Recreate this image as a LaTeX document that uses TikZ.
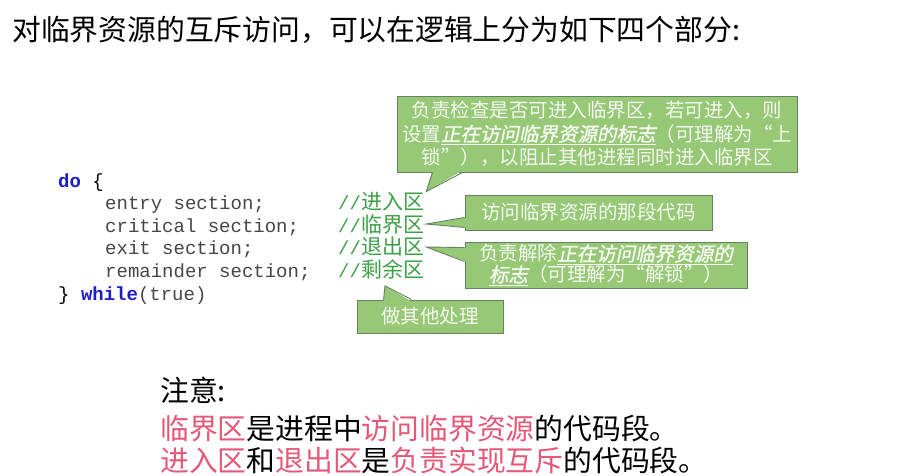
\documentclass[tikz,border=0pt]{standalone}
\usepackage{fontspec}
\setmainfont{Noto Sans CJK SC}
\setmonofont{Liberation Mono}
\newfontfamily\cjk{Noto Sans CJK SC}
\newfontfamily\cjkem{Noto Sans CJK SC}[FakeSlant=0.2,FakeBold=1.5]
\usepackage{xcolor}
\usetikzlibrary{positioning}
\definecolor{kwblue}{RGB}{30,30,200}
\definecolor{codegrey}{RGB}{70,70,70}
\definecolor{cmtgreen}{RGB}{60,160,70}
\definecolor{notefill}{RGB}{150,200,118}
\definecolor{noteedge}{RGB}{100,130,95}
\definecolor{notetext}{RGB}{244,248,240}
\definecolor{hotpink}{RGB}{229,88,120}
\newcommand{\kw}[1]{\textcolor{kwblue}{\bfseries #1}}
\newcommand{\zone}[1]{{\cjk\fontsize{21}{21}\selectfont #1}}
\newcommand{\flagtxt}[1]{\underline{\cjkem #1}}
\newcommand{\red}[1]{\textcolor{hotpink}{#1}}
\tikzset{
  codeln/.style={anchor=base west,inner sep=0pt,text=codegrey,
                 font=\fontsize{19}{23}\selectfont\ttfamily},
  cmt/.style={codeln,text=cmtgreen},
  bigtxt/.style={anchor=base west,inner sep=0pt,font=\fontsize{28.8}{34}\selectfont},
  note/.style={draw=noteedge,fill=notefill,line width=0.9pt,text=notetext,
               align=center,inner sep=2pt,font=\fontsize{19.5}{23.5}\selectfont},
  notetip/.style={fill=notefill},
  noteline/.style={draw=noteedge,line width=0.9pt,line join=miter},
}

\begin{document}
\begin{tikzpicture}[x=1pt,y=-1pt]
  \useasboundingbox[fill=white] (0,0) rectangle (905,476);

  \node[bigtxt] (title) at (12,41)
    {对临界资源的互斥访问，可以在逻辑上分为如下四个部分:};

  % code
  \node[codeln] (cdo)    at (58,187)  {\kw{do} \textcolor{black}{\{}};
  \node[codeln] (centry) at (105,209) {entry section;};
  \node[codeln] (ccrit)  at (105,232) {critical section;};
  \node[codeln] (cexit)  at (105,254) {exit section;};
  \node[codeln] (crem)   at (105,277) {remainder section;};
  \node[codeln] (cwhile) at (58,300)  {\textcolor{black}{\}} \kw{while}(true)};

  \node[cmt] (mentry) at (338,209) {//\zone{进入区}};
  \node[cmt] (mcrit)  at (338,232) {//\zone{临界区}};
  \node[cmt] (mexit)  at (338,254) {//\zone{退出区}};
  \node[cmt] (mrem)   at (338,277) {//\zone{剩余区}};

  % notes
  \node[note,minimum width=400pt,minimum height=76pt] (nentry) at (597,134)
    {负责检查是否可进入临界区，若可进入，则\\
     设置\flagtxt{正在访问临界资源的标志}（可理解为“上\\
     锁”），以阻止其他进程同时进入临界区};
  \node[note,minimum width=247pt,minimum height=35pt] (ncrit) at (588.5,212.5)
    {访问临界资源的那段代码};
  \node[note,minimum width=282pt,minimum height=46pt,
        font=\fontsize{19.5}{21}\selectfont] (nexit) at (606,265)
    {负责解除\flagtxt{正在访问临界资源的}\\
     \flagtxt{标志}（可理解为“解锁”）};
  \node[note,minimum width=146pt,minimum height=33pt] (nrem) at (430,316.5)
    {做其他处理};

  % pointers
  \fill[notetip] ([xshift=36pt,yshift=2pt]nentry.south west)
    -- ([xshift=2pt]mentry.north east) -- ([xshift=66pt,yshift=2pt]nentry.south west) -- cycle;
  \draw[noteline] ([xshift=36pt]nentry.south west)
    -- ([xshift=2pt]mentry.north east) -- ([xshift=66pt]nentry.south west);

  \fill[notetip] ([xshift=2pt,yshift=3pt]ncrit.south west)
    -- ([xshift=2pt]mcrit.east) -- ([xshift=2pt,yshift=13pt]ncrit.south west) -- cycle;
  \draw[noteline] ([yshift=3pt]ncrit.south west)
    -- ([xshift=2pt]mcrit.east) -- ([yshift=13pt]ncrit.south west);

  \fill[notetip] ([xshift=2pt,yshift=-6pt]nexit.north west)
    -- ([xshift=2pt,yshift=-1pt]mexit.east) -- ([xshift=2pt,yshift=-20pt]nexit.north west) -- cycle;
  \draw[noteline] ([yshift=-6pt]nexit.north west)
    -- ([xshift=2pt,yshift=-1pt]mexit.east) -- ([yshift=-20pt]nexit.north west);

  \fill[notetip] ([xshift=27pt,yshift=-2pt]nrem.north west)
    -- ([xshift=47pt,yshift=-7pt]mrem.south west) -- ([xshift=55pt,yshift=-2pt]nrem.north west) -- cycle;
  \draw[noteline] ([xshift=27pt]nrem.north west)
    -- ([xshift=47pt,yshift=-7pt]mrem.south west) -- ([xshift=55pt]nrem.north west);

  % remarks
  \node[bigtxt] (nb)    at (160,401) {注意:};
  \node[bigtxt] (nbone) at (160,439)
    {\red{临界区}是进程中\red{访问临界资源}的代码段。};
  \node[bigtxt] (nbtwo) at (160,471)
    {\red{进入区}和\red{退出区}是\red{负责实现互斥}的代码段。};
\end{tikzpicture}
\end{document}
